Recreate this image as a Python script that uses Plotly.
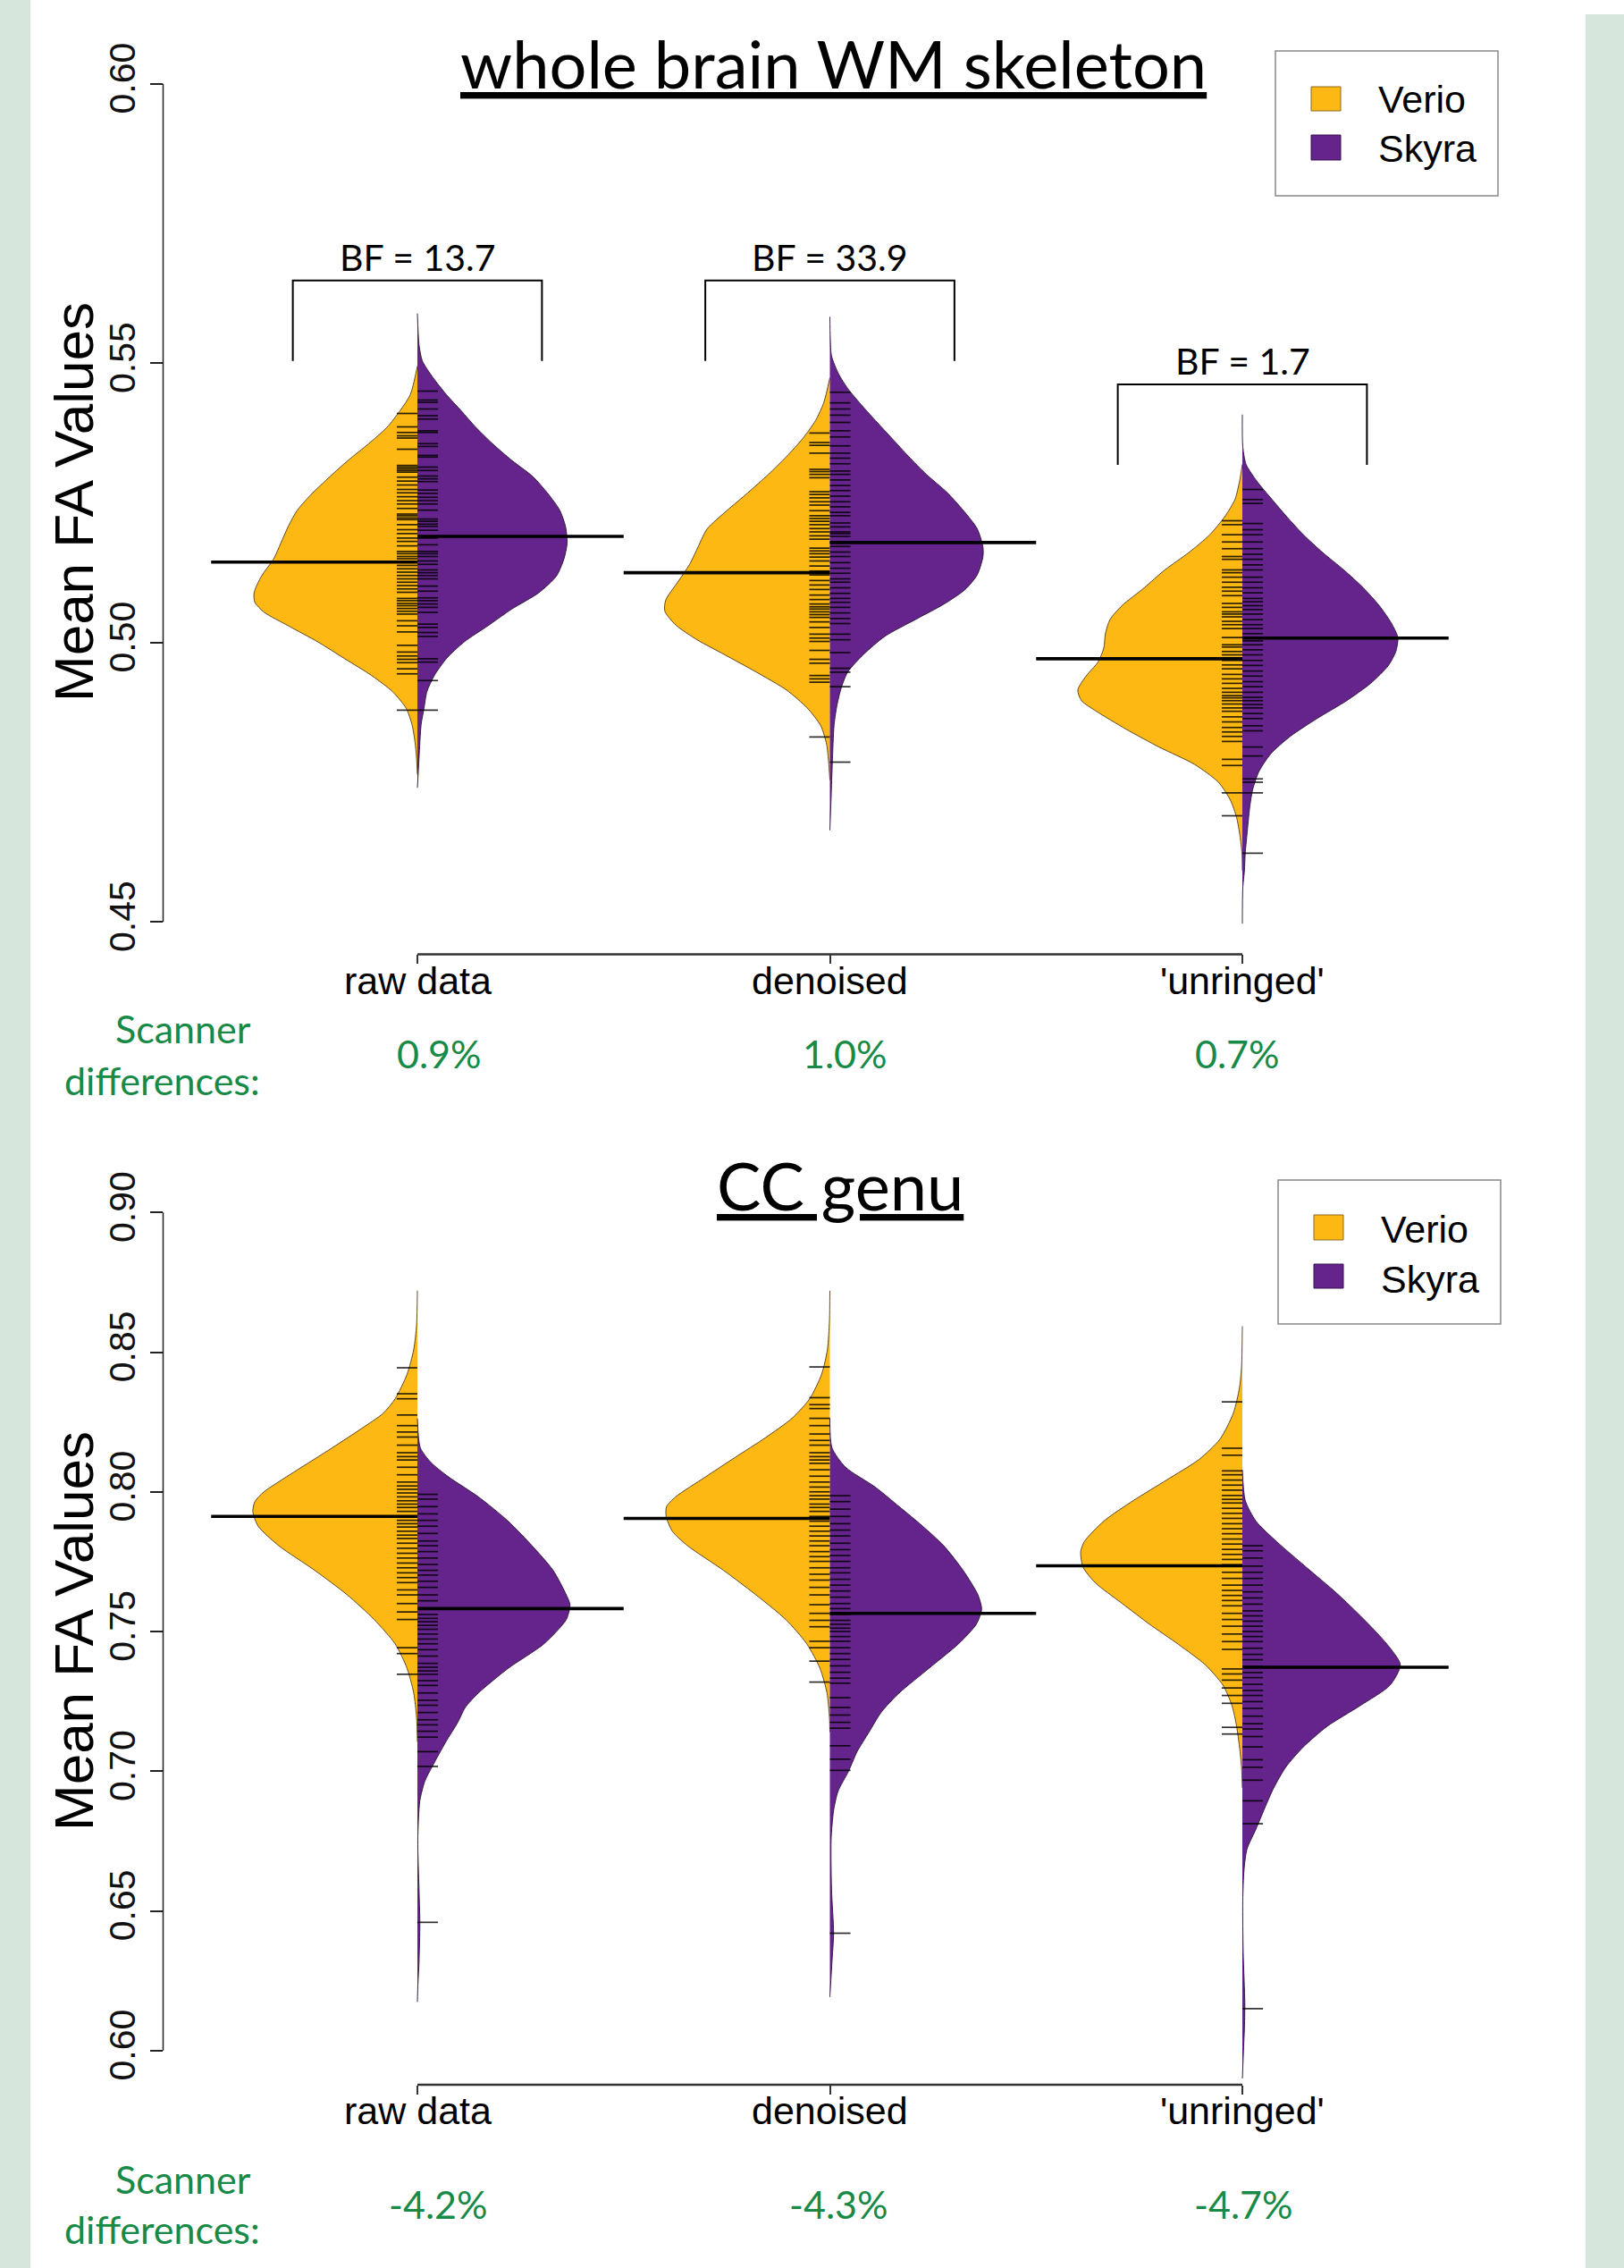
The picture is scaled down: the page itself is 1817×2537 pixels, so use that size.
import plotly.graph_objects as go

W, H = 1817, 2537

# ---------------- data ----------------
CATEGORIES = ["raw data", "denoised", "'unringed'"]
CAT_POS = [1, 2, 3]

WM_TICKS = [0.45, 0.50, 0.55, 0.60]
CC_TICKS = [0.60, 0.65, 0.70, 0.75, 0.80, 0.85, 0.90]

WM_VERIO_MEAN = [0.5144, 0.5125, 0.4971]
WM_SKYRA_MEAN = [0.5190, 0.5179, 0.5008]
CC_VERIO_MEAN = [0.7912, 0.7905, 0.7735]
CC_SKYRA_MEAN = [0.7582, 0.7565, 0.7372]

WM_DIFF = ["0.9%", "1.0%", "0.7%"]
CC_DIFF = ["-4.2%", "-4.3%", "-4.7%"]

BF_LABELS = ["BF = 13.7", "BF = 33.9", "BF = 1.7"]
BF_TOP = [0.5648, 0.5648, 0.5462]
BF_LEG = [0.5504, 0.5504, 0.5318]

# density outlines (value, half width in category units)
WM_RAW_VERIO_Y = [0.5495, 0.5444, 0.5415, 0.5385, 0.5356, 0.5326, 0.5297, 0.5267, 0.5237, 0.5208, 0.5178, 0.5149, 0.5119,
                  0.5089, 0.5072, 0.5054, 0.5030, 0.5001, 0.4971, 0.4941, 0.4912, 0.4882, 0.4853, 0.4823, 0.4793, 0.4764]
WM_RAW_VERIO_W = [0, 0.017, 0.042, 0.074, 0.118, 0.168, 0.212, 0.255, 0.291, 0.313, 0.331, 0.349, 0.378,
                  0.396, 0.394, 0.371, 0.313, 0.241, 0.176, 0.111, 0.060, 0.027, 0.013, 0.006, 0.002, 0]
WM_RAW_SKYRA_Y = [0.5589, 0.5533, 0.5504, 0.5474, 0.5444, 0.5415, 0.5385, 0.5356, 0.5326, 0.5297, 0.5267, 0.5237, 0.5208, 0.5178,
                  0.5149, 0.5119, 0.5089, 0.5060, 0.5030, 0.5001, 0.4971, 0.4941, 0.4912, 0.4882, 0.4853, 0.4793, 0.4740]
WM_RAW_SKYRA_W = [0, 0.004, 0.012, 0.038, 0.070, 0.106, 0.142, 0.182, 0.229, 0.280, 0.316, 0.345, 0.359, 0.363,
                  0.355, 0.337, 0.294, 0.229, 0.171, 0.113, 0.070, 0.041, 0.023, 0.016, 0.009, 0.004, 0]

WM_DEN_VERIO_Y = [0.5474, 0.5429, 0.5397, 0.5365, 0.5333, 0.5301, 0.5268, 0.5236, 0.5204, 0.5185, 0.5172, 0.5140, 0.5108,
                  0.5076, 0.5056, 0.5031, 0.5005, 0.4979, 0.4947, 0.4915, 0.4883, 0.4851, 0.4818, 0.4786, 0.4754]
WM_DEN_VERIO_W = [0, 0.015, 0.035, 0.066, 0.105, 0.149, 0.199, 0.250, 0.297, 0.311, 0.319, 0.340, 0.369,
                  0.398, 0.400, 0.373, 0.322, 0.257, 0.178, 0.105, 0.055, 0.022, 0.008, 0.003, 0]
WM_DEN_SKYRA_Y = [0.5583, 0.5545, 0.5513, 0.5481, 0.5455, 0.5429, 0.5397, 0.5365, 0.5333, 0.5301, 0.5268, 0.5236, 0.5204, 0.5172,
                  0.5153, 0.5121, 0.5095, 0.5069, 0.5043, 0.5011, 0.4979, 0.4947, 0.4915, 0.4883, 0.4851, 0.4786, 0.4722, 0.4664]
WM_DEN_SKYRA_W = [0, 0.001, 0.004, 0.021, 0.043, 0.072, 0.111, 0.151, 0.191, 0.234, 0.285, 0.324, 0.357, 0.371,
                  0.371, 0.357, 0.328, 0.277, 0.212, 0.133, 0.082, 0.043, 0.026, 0.016, 0.010, 0.006, 0.003, 0]

WM_UNR_VERIO_Y = [0.5319, 0.5288, 0.5256, 0.5225, 0.5193, 0.5161, 0.5130, 0.5098, 0.5066, 0.5041, 0.5016, 0.4990, 0.4965,
                  0.4940, 0.4915, 0.4896, 0.4877, 0.4845, 0.4813, 0.4782, 0.4750, 0.4718, 0.4687, 0.4655, 0.4623, 0.4592]
WM_UNR_VERIO_W = [0, 0.007, 0.018, 0.043, 0.079, 0.130, 0.188, 0.238, 0.292, 0.321, 0.332, 0.336, 0.350,
                  0.379, 0.399, 0.390, 0.354, 0.282, 0.202, 0.116, 0.058, 0.029, 0.014, 0.006, 0.001, 0]
WM_UNR_SKYRA_Y = [0.5408, 0.5351, 0.5319, 0.5288, 0.5256, 0.5225, 0.5193, 0.5161, 0.5130, 0.5098, 0.5066, 0.5035, 0.5009, 0.4984,
                  0.4959, 0.4927, 0.4896, 0.4864, 0.4832, 0.4801, 0.4769, 0.4737, 0.4706, 0.4655, 0.4623, 0.4592, 0.4560, 0.4497]
WM_UNR_SKYRA_W = [0, 0.001, 0.009, 0.036, 0.072, 0.108, 0.148, 0.195, 0.246, 0.293, 0.332, 0.361, 0.377, 0.372,
                  0.354, 0.311, 0.253, 0.181, 0.116, 0.069, 0.040, 0.025, 0.018, 0.011, 0.007, 0.005, 0.001, 0]

CC_RAW_VERIO_Y = [0.8720, 0.8597, 0.8509, 0.8421, 0.8333, 0.8281, 0.8228, 0.8158, 0.8070, 0.8000, 0.7965, 0.7930, 0.7877,
                  0.7807, 0.7719, 0.7631, 0.7543, 0.7456, 0.7368, 0.7280, 0.7192, 0.7105]
CC_RAW_VERIO_W = [0, 0.002, 0.009, 0.025, 0.054, 0.083, 0.134, 0.206, 0.300, 0.372, 0.394, 0.399, 0.386,
                  0.336, 0.249, 0.170, 0.105, 0.054, 0.025, 0.009, 0.002, 0]
CC_RAW_SKYRA_Y = [0.8263, 0.8158, 0.8105, 0.8053, 0.7982, 0.7895, 0.7807, 0.7719, 0.7631, 0.7596, 0.7543, 0.7456, 0.7368,
                  0.7280, 0.7228, 0.7175, 0.7105, 0.7017, 0.6964, 0.6894, 0.6754, 0.6578, 0.6455, 0.6315, 0.6227, 0.6174]
CC_RAW_SKYRA_W = [0, 0.007, 0.033, 0.076, 0.148, 0.220, 0.278, 0.329, 0.361, 0.370, 0.361, 0.307, 0.220,
                  0.148, 0.116, 0.098, 0.069, 0.036, 0.018, 0.006, 0.001, 0.004, 0.006, 0.004, 0.001, 0]

CC_DEN_VERIO_Y = [0.8720, 0.8614, 0.8509, 0.8421, 0.8333, 0.8263, 0.8193, 0.8123, 0.8053, 0.7982, 0.7947, 0.7912, 0.7859,
                  0.7807, 0.7719, 0.7631, 0.7543, 0.7456, 0.7368, 0.7280, 0.7192, 0.7140]
CC_DEN_VERIO_W = [0, 0.001, 0.006, 0.020, 0.049, 0.092, 0.157, 0.230, 0.302, 0.374, 0.396, 0.397, 0.382,
                  0.345, 0.258, 0.179, 0.107, 0.056, 0.024, 0.007, 0.001, 0]
CC_DEN_SKYRA_Y = [0.8263, 0.8158, 0.8088, 0.8017, 0.7947, 0.7877, 0.7807, 0.7719, 0.7631, 0.7579, 0.7526, 0.7456, 0.7368,
                  0.7280, 0.7210, 0.7140, 0.7070, 0.6999, 0.6929, 0.6859, 0.6754, 0.6578, 0.6420, 0.6315, 0.6192]
CC_DEN_SKYRA_W = [0, 0.005, 0.038, 0.110, 0.168, 0.225, 0.276, 0.323, 0.359, 0.368, 0.355, 0.312, 0.240,
                  0.168, 0.124, 0.095, 0.066, 0.045, 0.020, 0.009, 0.003, 0.004, 0.009, 0.005, 0]

CC_UNR_VERIO_Y = [0.8593, 0.8446, 0.8373, 0.8281, 0.8189, 0.8116, 0.8042, 0.7969, 0.7895, 0.7822, 0.7785, 0.7730, 0.7675,
                  0.7601, 0.7528, 0.7454, 0.7381, 0.7308, 0.7234, 0.7161, 0.7087, 0.7014, 0.6940]
CC_UNR_VERIO_W = [0, 0.002, 0.007, 0.022, 0.054, 0.105, 0.184, 0.264, 0.336, 0.383, 0.392, 0.386, 0.357,
                  0.292, 0.227, 0.155, 0.090, 0.047, 0.025, 0.014, 0.007, 0.002, 0]
CC_UNR_SKYRA_Y = [0.8079, 0.7969, 0.7895, 0.7822, 0.7730, 0.7638, 0.7546, 0.7454, 0.7381, 0.7308, 0.7234, 0.7161, 0.7087,
                  0.7014, 0.6940, 0.6867, 0.6793, 0.6720, 0.6646, 0.6536, 0.6352, 0.6169, 0.6077, 0.6044, 0.5900]
CC_UNR_SKYRA_W = [0, 0.007, 0.033, 0.083, 0.155, 0.228, 0.293, 0.351, 0.383, 0.358, 0.285, 0.206, 0.148,
                  0.105, 0.076, 0.054, 0.033, 0.011, 0.004, 0.001, 0.002, 0.006, 0.005, 0.004, 0]

# individual subject values (rug marks)
WM_RAW_VERIO_RUG = [0.5410, 0.5386, 0.5376, 0.5370, 0.5366, 0.5346, 0.5317, 0.5314, 0.5311, 0.5308, 0.5305, 0.5296, 0.5289,
                    0.5282, 0.5274, 0.5268, 0.5261, 0.5254, 0.5248, 0.5240, 0.5230, 0.5227, 0.5223, 0.5220, 0.5211, 0.5202,
                    0.5195, 0.5187, 0.5181, 0.5173, 0.5163, 0.5159, 0.5154, 0.5150, 0.5144, 0.5138, 0.5132, 0.5126, 0.5120,
                    0.5114, 0.5108, 0.5102, 0.5096, 0.5090, 0.5079, 0.5075, 0.5070, 0.5066, 0.5061, 0.5056, 0.5051, 0.5039,
                    0.5030, 0.5019, 0.4995, 0.4983, 0.4976, 0.4970, 0.4964, 0.4953, 0.4944, 0.4879]
WM_RAW_SKYRA_RUG = [0.5450, 0.5434, 0.5430, 0.5418, 0.5406, 0.5400, 0.5379, 0.5376, 0.5356, 0.5351, 0.5335, 0.5332, 0.5314,
                    0.5308, 0.5298, 0.5293, 0.5288, 0.5273, 0.5267, 0.5260, 0.5254, 0.5248, 0.5237, 0.5221, 0.5217, 0.5212,
                    0.5208, 0.5201, 0.5187, 0.5175, 0.5163, 0.5159, 0.5154, 0.5146, 0.5140, 0.5130, 0.5125, 0.5120, 0.5114,
                    0.5101, 0.5092, 0.5080, 0.5075, 0.5069, 0.5063, 0.5054, 0.5033, 0.5027, 0.5018, 0.5011, 0.4971, 0.4965,
                    0.4932, 0.4879]
WM_DEN_VERIO_RUG = [0.5375, 0.5358, 0.5353, 0.5339, 0.5310, 0.5306, 0.5301, 0.5295, 0.5270, 0.5265, 0.5259, 0.5252, 0.5246,
                    0.5236, 0.5227, 0.5222, 0.5217, 0.5211, 0.5204, 0.5198, 0.5191, 0.5185, 0.5169, 0.5164, 0.5159, 0.5153,
                    0.5146, 0.5137, 0.5128, 0.5121, 0.5111, 0.5103, 0.5095, 0.5085, 0.5077, 0.5069, 0.5064, 0.5060, 0.5055,
                    0.5050, 0.5045, 0.5037, 0.5027, 0.5015, 0.5008, 0.5002, 0.4986, 0.4970, 0.4963, 0.4941, 0.4935, 0.4929,
                    0.4831]
WM_DEN_SKYRA_RUG = [0.5448, 0.5429, 0.5418, 0.5407, 0.5394, 0.5379, 0.5368, 0.5352, 0.5339, 0.5330, 0.5320, 0.5307, 0.5301,
                    0.5291, 0.5281, 0.5272, 0.5262, 0.5252, 0.5243, 0.5233, 0.5227, 0.5214, 0.5207, 0.5198, 0.5195, 0.5190,
                    0.5179, 0.5172, 0.5162, 0.5154, 0.5143, 0.5133, 0.5124, 0.5114, 0.5108, 0.5098, 0.5088, 0.5079, 0.5072,
                    0.5063, 0.5053, 0.5043, 0.5034, 0.5015, 0.5005, 0.4982, 0.4954, 0.4947, 0.4921, 0.4786]
WM_UNR_VERIO_RUG = [0.5218, 0.5211, 0.5193, 0.5180, 0.5168, 0.5154, 0.5149, 0.5130, 0.5125, 0.5117, 0.5108, 0.5099, 0.5092,
                    0.5084, 0.5070, 0.5063, 0.5055, 0.5051, 0.5046, 0.5038, 0.5032, 0.5025, 0.5009, 0.4996, 0.4992, 0.4984,
                    0.4978, 0.4968, 0.4960, 0.4953, 0.4943, 0.4935, 0.4927, 0.4918, 0.4911, 0.4905, 0.4901, 0.4896, 0.4890,
                    0.4883, 0.4877, 0.4867, 0.4858, 0.4848, 0.4840, 0.4832, 0.4823, 0.4791, 0.4780, 0.4731, 0.4690]
WM_UNR_SKYRA_RUG = [0.5274, 0.5256, 0.5249, 0.5213, 0.5202, 0.5193, 0.5180, 0.5168, 0.5158, 0.5149, 0.5139, 0.5130, 0.5117,
                    0.5108, 0.5098, 0.5089, 0.5079, 0.5073, 0.5066, 0.5059, 0.5051, 0.5041, 0.5032, 0.5025, 0.5016, 0.5003,
                    0.4996, 0.4987, 0.4978, 0.4968, 0.4959, 0.4949, 0.4940, 0.4930, 0.4921, 0.4911, 0.4902, 0.4896, 0.4889,
                    0.4883, 0.4873, 0.4864, 0.4851, 0.4842, 0.4813, 0.4797, 0.4756, 0.4750, 0.4731, 0.4623]

CC_RAW_VERIO_RUG = [0.8444, 0.8351, 0.8333, 0.8275, 0.8237, 0.8214, 0.8196, 0.8167, 0.8140, 0.8126, 0.8114, 0.8088, 0.8061,
                    0.8035, 0.8021, 0.8009, 0.7996, 0.7982, 0.7968, 0.7956, 0.7944, 0.7930, 0.7912, 0.7898, 0.7886, 0.7874,
                    0.7859, 0.7845, 0.7833, 0.7816, 0.7798, 0.7780, 0.7763, 0.7745, 0.7728, 0.7710, 0.7693, 0.7675, 0.7649,
                    0.7631, 0.7600, 0.7570, 0.7543, 0.7442, 0.7421, 0.7347]
CC_RAW_SKYRA_RUG = [0.7991, 0.7974, 0.7947, 0.7921, 0.7898, 0.7877, 0.7851, 0.7824, 0.7807, 0.7786, 0.7763, 0.7740, 0.7719,
                    0.7702, 0.7680, 0.7658, 0.7631, 0.7610, 0.7582, 0.7561, 0.7547, 0.7535, 0.7522, 0.7508, 0.7491, 0.7473,
                    0.7456, 0.7435, 0.7412, 0.7386, 0.7372, 0.7359, 0.7347, 0.7324, 0.7307, 0.7280, 0.7254, 0.7236, 0.7210,
                    0.7184, 0.7166, 0.7143, 0.7122, 0.7070, 0.7017, 0.6459]
CC_DEN_VERIO_RUG = [0.8447, 0.8337, 0.8312, 0.8298, 0.8263, 0.8237, 0.8207, 0.8184, 0.8167, 0.8140, 0.8126, 0.8114, 0.8102,
                    0.8079, 0.8056, 0.8035, 0.8017, 0.8000, 0.7986, 0.7974, 0.7956, 0.7944, 0.7930, 0.7912, 0.7895, 0.7877,
                    0.7859, 0.7842, 0.7824, 0.7807, 0.7786, 0.7768, 0.7751, 0.7728, 0.7705, 0.7684, 0.7658, 0.7631, 0.7596,
                    0.7565, 0.7540, 0.7517, 0.7465, 0.7442, 0.7394, 0.7319]
CC_DEN_SKYRA_RUG = [0.7986, 0.7965, 0.7938, 0.7912, 0.7886, 0.7863, 0.7842, 0.7816, 0.7793, 0.7772, 0.7751, 0.7728, 0.7710,
                    0.7687, 0.7666, 0.7645, 0.7623, 0.7600, 0.7582, 0.7561, 0.7540, 0.7526, 0.7512, 0.7500, 0.7482, 0.7465,
                    0.7442, 0.7421, 0.7400, 0.7377, 0.7354, 0.7333, 0.7315, 0.7263, 0.7228, 0.7201, 0.7175, 0.7154, 0.7091,
                    0.7043, 0.7003, 0.6420]
CC_UNR_VERIO_RUG = [0.8322, 0.8156, 0.8131, 0.8075, 0.8061, 0.8042, 0.8024, 0.8006, 0.7987, 0.7973, 0.7960, 0.7941, 0.7923,
                    0.7905, 0.7886, 0.7868, 0.7850, 0.7831, 0.7813, 0.7794, 0.7776, 0.7758, 0.7739, 0.7712, 0.7690, 0.7666,
                    0.7647, 0.7629, 0.7611, 0.7592, 0.7565, 0.7543, 0.7519, 0.7491, 0.7464, 0.7436, 0.7366, 0.7348, 0.7326,
                    0.7298, 0.7271, 0.7243, 0.7157, 0.7133]
CC_UNR_SKYRA_RUG = [0.7807, 0.7789, 0.7763, 0.7734, 0.7712, 0.7690, 0.7666, 0.7642, 0.7620, 0.7598, 0.7574, 0.7556, 0.7537,
                    0.7519, 0.7500, 0.7482, 0.7464, 0.7440, 0.7418, 0.7399, 0.7375, 0.7353, 0.7335, 0.7311, 0.7289, 0.7271,
                    0.7249, 0.7225, 0.7197, 0.7170, 0.7151, 0.7124, 0.7087, 0.7041, 0.7014, 0.6968, 0.6894, 0.6812, 0.6150]

# ---------------- style ----------------
VERIO_COLOR = "#FDB813"
SKYRA_COLOR = "#65238C"
EDGE_COLOR = "rgba(70,50,20,0.85)"
GREEN = "#178a47"
BG_GREEN = "#d6e6dd"
SANS = "Liberation Sans, Arial, sans-serif"
CALI = "Lato, Open Sans, sans-serif"
RUG_LEN = 0.05
MEAN_LEN = 0.5

fig = go.Figure()


def px_x(p):
    return p / W


def px_y(p):
    return 1 - p / H


def add_panel(xa, ya, verio_profiles, skyra_profiles, verio_rugs, skyra_rugs, verio_means, skyra_means):
    for i, c in enumerate(CAT_POS):
        vy, vw = verio_profiles[i]
        sy, sw = skyra_profiles[i]
        fig.add_trace(go.Scatter(x=[c - w for w in vw], y=vy, mode="lines", fill="toself",
                                 fillcolor=VERIO_COLOR, line=dict(color=EDGE_COLOR, width=1, shape="spline", smoothing=0.7),
                                 xaxis=xa, yaxis=ya, hoverinfo="skip"))
        fig.add_trace(go.Scatter(x=[c + w for w in sw], y=sy, mode="lines", fill="toself",
                                 fillcolor=SKYRA_COLOR, line=dict(color="rgba(40,20,50,0.9)", width=1, shape="spline", smoothing=0.7),
                                 xaxis=xa, yaxis=ya, hoverinfo="skip"))
    for i, c in enumerate(CAT_POS):
        rx, ry = [], []
        for v in verio_rugs[i]:
            rx += [c - RUG_LEN, c, None]
            ry += [v, v, None]
        for v in skyra_rugs[i]:
            rx += [c, c + RUG_LEN, None]
            ry += [v, v, None]
        fig.add_trace(go.Scatter(x=rx, y=ry, mode="lines", line=dict(color="rgba(0,0,0,0.82)", width=1.7),
                                 xaxis=xa, yaxis=ya, hoverinfo="skip"))
    for i, c in enumerate(CAT_POS):
        fig.add_trace(go.Scatter(x=[c - MEAN_LEN, c], y=[verio_means[i]] * 2, mode="lines",
                                 line=dict(color="black", width=3.6), xaxis=xa, yaxis=ya, hoverinfo="skip"))
        fig.add_trace(go.Scatter(x=[c, c + MEAN_LEN], y=[skyra_means[i]] * 2, mode="lines",
                                 line=dict(color="black", width=3.6), xaxis=xa, yaxis=ya, hoverinfo="skip"))


add_panel("x", "y",
          [(WM_RAW_VERIO_Y, WM_RAW_VERIO_W), (WM_DEN_VERIO_Y, WM_DEN_VERIO_W), (WM_UNR_VERIO_Y, WM_UNR_VERIO_W)],
          [(WM_RAW_SKYRA_Y, WM_RAW_SKYRA_W), (WM_DEN_SKYRA_Y, WM_DEN_SKYRA_W), (WM_UNR_SKYRA_Y, WM_UNR_SKYRA_W)],
          [WM_RAW_VERIO_RUG, WM_DEN_VERIO_RUG, WM_UNR_VERIO_RUG],
          [WM_RAW_SKYRA_RUG, WM_DEN_SKYRA_RUG, WM_UNR_SKYRA_RUG],
          WM_VERIO_MEAN, WM_SKYRA_MEAN)
add_panel("x2", "y2",
          [(CC_RAW_VERIO_Y, CC_RAW_VERIO_W), (CC_DEN_VERIO_Y, CC_DEN_VERIO_W), (CC_UNR_VERIO_Y, CC_UNR_VERIO_W)],
          [(CC_RAW_SKYRA_Y, CC_RAW_SKYRA_W), (CC_DEN_SKYRA_Y, CC_DEN_SKYRA_W), (CC_UNR_SKYRA_Y, CC_UNR_SKYRA_W)],
          [CC_RAW_VERIO_RUG, CC_DEN_VERIO_RUG, CC_UNR_VERIO_RUG],
          [CC_RAW_SKYRA_RUG, CC_DEN_SKYRA_RUG, CC_UNR_SKYRA_RUG],
          CC_VERIO_MEAN, CC_SKYRA_MEAN)

# BF brackets
for i, c in enumerate(CAT_POS):
    fig.add_trace(go.Scatter(x=[c - 0.302, c - 0.302, c + 0.302, c + 0.302],
                             y=[BF_LEG[i], BF_TOP[i], BF_TOP[i], BF_LEG[i]],
                             mode="lines", line=dict(color="black", width=2), xaxis="x", yaxis="y", hoverinfo="skip"))

annotations = []
for i, c in enumerate(CAT_POS):
    annotations.append(dict(x=c, y=BF_TOP[i] + 0.0042, xref="x", yref="y", text=BF_LABELS[i], showarrow=False,
                            font=dict(family=CALI, size=41, color="black"), xanchor="center", yanchor="middle"))

# category labels under each panel
for xa, ycat in (("x", 1097), ("x2", 2361)):
    for c, lab in zip(CAT_POS, CATEGORIES):
        annotations.append(dict(x=c, y=px_y(ycat), xref=xa, yref="paper", text=lab, showarrow=False,
                                font=dict(family=SANS, size=43, color="black"), xanchor="center", yanchor="middle"))

# titles
annotations.append(dict(x=px_x(932), y=px_y(70), xref="paper", yref="paper", text="<u>whole brain WM skeleton</u>",
                        showarrow=False, font=dict(family=CALI, size=74, color="black"), xanchor="center", yanchor="middle"))
annotations.append(dict(x=px_x(940), y=px_y(1326), xref="paper", yref="paper", text="<u>CC genu</u>",
                        showarrow=False, font=dict(family=CALI, size=74, color="black"), xanchor="center", yanchor="middle"))
# y titles
for yc in (562, 1825):
    annotations.append(dict(x=px_x(82), y=px_y(yc), xref="paper", yref="paper", text="Mean FA Values", textangle=-90,
                            showarrow=False, font=dict(family=SANS, size=62, color="black"),
                            xanchor="center", yanchor="middle"))
# scanner differences
for (ys, yd, yv, diffs, xs) in ((1150, 1208, 1178, WM_DIFF, (491, 946, 1384)),
                                (2437, 2493, 2465, CC_DIFF, (490, 938, 1391))):
    annotations.append(dict(x=px_x(205), y=px_y(ys), xref="paper", yref="paper", text="Scanner", showarrow=False,
                            font=dict(family=CALI, size=43, color=GREEN), xanchor="center", yanchor="middle"))
    annotations.append(dict(x=px_x(181), y=px_y(yd), xref="paper", yref="paper", text="differences:", showarrow=False,
                            font=dict(family=CALI, size=43, color=GREEN), xanchor="center", yanchor="middle"))
    for d, xx in zip(diffs, xs):
        annotations.append(dict(x=px_x(xx), y=px_y(yv), xref="paper", yref="paper", text=d, showarrow=False,
                                font=dict(family=CALI, size=43, color=GREEN), xanchor="center", yanchor="middle"))

shapes = []
# background strips
shapes.append(dict(type="rect", xref="paper", yref="paper", x0=0, x1=px_x(34), y0=0, y1=1,
                   fillcolor=BG_GREEN, line=dict(width=0), layer="below"))
shapes.append(dict(type="rect", xref="paper", yref="paper", x0=px_x(1774), x1=1, y0=0, y1=px_y(16),
                   fillcolor=BG_GREEN, line=dict(width=0), layer="below"))
# axis lines (R style, spanning tick range only)
for xa, ya, ticks in (("x", "y", WM_TICKS), ("x2", "y2", CC_TICKS)):
    shapes.append(dict(type="line", xref=xa, yref=ya + " domain", x0=CAT_POS[0], x1=CAT_POS[-1], y0=0, y1=0,
                       line=dict(color="#333", width=2.5)))
    shapes.append(dict(type="line", xref=xa + " domain", yref=ya, x0=0, x1=0, y0=ticks[0], y1=ticks[-1],
                       line=dict(color="#222", width=1.5)))
# legends
for (bx0, by0, bx1, by1, sv, ss, tv, ts) in ((1427, 57, 1676, 219, (97, 124), (151, 179), 111, 166),
                                             (1430, 1320, 1679, 1481, (1359, 1387), (1414, 1441), 1375, 1431)):
    shapes.append(dict(type="rect", xref="paper", yref="paper", x0=px_x(bx0), x1=px_x(bx1), y0=px_y(by1), y1=px_y(by0),
                       line=dict(color="#888", width=1.5), fillcolor="white"))
    shapes.append(dict(type="rect", xref="paper", yref="paper", x0=px_x(bx0 + 40), x1=px_x(bx0 + 73),
                       y0=px_y(sv[1]), y1=px_y(sv[0]), line=dict(color="#8a6a20", width=1), fillcolor=VERIO_COLOR))
    shapes.append(dict(type="rect", xref="paper", yref="paper", x0=px_x(bx0 + 40), x1=px_x(bx0 + 73),
                       y0=px_y(ss[1]), y1=px_y(ss[0]), line=dict(color="#3a1550", width=1), fillcolor=SKYRA_COLOR))
    annotations.append(dict(x=px_x(bx0 + 113), y=px_y(tv), xref="paper", yref="paper", text="Verio", showarrow=False,
                            font=dict(family=SANS, size=43, color="black"), xanchor="left", yanchor="middle"))
    annotations.append(dict(x=px_x(bx0 + 113), y=px_y(ts), xref="paper", yref="paper", text="Skyra", showarrow=False,
                            font=dict(family=SANS, size=43, color="black"), xanchor="left", yanchor="middle"))

x_dom = [px_x(182.5), px_x(1700)]
x_rng = [0.38354, 3.6717]
common_x = dict(domain=x_dom, range=x_rng, tickvals=CAT_POS, ticktext=CATEGORIES, ticks="outside", ticklen=10,
                tickwidth=2, tickcolor="#333", showline=False, showgrid=False, zeroline=False,
                showticklabels=False, fixedrange=True)
common_y = dict(ticks="outside", ticklen=14, tickwidth=1.5, tickcolor="#222", tickangle=-90, showline=False,
                showgrid=False, zeroline=False, tickfont=dict(family=SANS, size=41, color="#111"), fixedrange=True)

fig.update_layout(
    width=W, height=H, autosize=False,
    margin=dict(l=0, r=0, t=0, b=0, pad=0),
    paper_bgcolor="white", plot_bgcolor="rgba(0,0,0,0)",
    showlegend=False,
    xaxis=dict(anchor="y", **common_x),
    xaxis2=dict(anchor="y2", **common_x),
    yaxis=dict(anchor="x", domain=[px_y(1067.4), 1], range=[0.44422, 0.615],
               tickvals=WM_TICKS, ticktext=[f"{t:.2f}" for t in WM_TICKS], **common_y),
    yaxis2=dict(anchor="x2", domain=[px_y(2331.9), px_y(1240)], range=[0.5878, 0.9372],
                tickvals=CC_TICKS, ticktext=[f"{t:.2f}" for t in CC_TICKS], **common_y),
    annotations=annotations,
    shapes=shapes,
)

fig.write_html("out.html", config={"displayModeBar": False},
               post_script="document.body.style.margin='0';")
